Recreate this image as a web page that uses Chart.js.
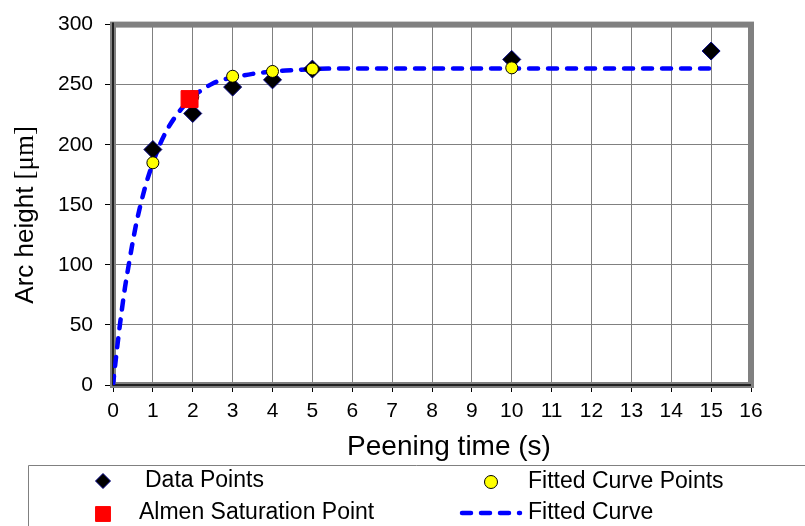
<!DOCTYPE html>
<html>
<head>
<meta charset="utf-8">
<script src="https://cdn.jsdelivr.net/npm/chart.js@4/dist/chart.umd.min.js"></script>
<style>
  html, body { margin: 0; padding: 0; background: #fff; }
  #wrap { position: relative; width: 805px; height: 526px; }
  canvas { display: block; }
</style>
</head>
<body>
<div id="wrap"><canvas id="c" width="805" height="526"></canvas></div>
<script>
// ---- data ----
const dataX = [1, 2, 3, 4, 5, 10, 15];
const dataY = [196, 226, 248, 254, 263, 271, 278];

const fitPtX = [1, 2, 3, 4, 5, 10];
const fitPtY = [185, 240, 257, 261, 263, 264];

const almenX = [1.92];
const almenY = [238];

const curveX = [0, 0.1, 0.2, 0.3, 0.4, 0.5, 0.6, 0.8, 1, 1.2, 1.4, 1.6, 1.8, 2, 2.25, 2.5, 2.75, 3, 3.5, 4, 4.5, 5, 6, 8, 10, 12, 15];
const curveY = [0, 30, 57, 81, 101, 120, 137, 164, 185, 202, 215, 225, 233, 240, 246, 251, 254, 256, 259, 261, 262, 263, 263.5, 263.5, 263.5, 263.5, 263.5];

const xTicksMax = 16;
const yTicksMax = 300;

const labels = {
  data: 'Data Points',
  fitPts: 'Fitted Curve Points',
  almen: 'Almen Saturation Point',
  curve: 'Fitted Curve',
  xTitle: 'Peening time (s)',
  yTitleMain: 'Arc height ',
  yTitleUnit: '[\u03bcm]'
};

const FONT = "'Liberation Sans', Arial, sans-serif";
const SERIF = "'Liberation Serif', 'Times New Roman', serif";
const toXY = (xs, ys) => xs.map((x, i) => ({x: x, y: ys[i]}));

const frame = {
  id: 'frame',
  beforeDatasetsDraw(chart) {
    const {ctx, chartArea: a} = chart;
    ctx.save();
    ctx.strokeStyle = '#808080';
    ctx.lineWidth = 6;
    ctx.strokeRect(a.left, a.top, a.right - a.left, a.bottom - a.top);
    ctx.strokeStyle = '#000';
    ctx.lineWidth = 1.5;
    ctx.beginPath();
    ctx.moveTo(a.left, a.top - 2);
    ctx.lineTo(a.left, a.bottom);
    ctx.lineTo(a.right, a.bottom);
    ctx.stroke();
    ctx.restore();
  }
};

const axisTitles = {
  id: 'axisTitles',
  afterDraw(chart) {
    const ctx = chart.ctx;
    const a = chart.chartArea;
    ctx.save();
    ctx.fillStyle = '#000';
    ctx.textBaseline = 'middle';
    // x title
    ctx.font = '28px ' + FONT;
    ctx.textAlign = 'center';
    ctx.fillText(labels.xTitle, (a.left + a.right) / 2 + 17, a.bottom + 62);
    // y title (rotated), sans part + serif unit
    ctx.translate(26, (a.top + a.bottom) / 2 + 10);
    ctx.rotate(-Math.PI / 2);
    ctx.font = '26px ' + FONT;
    const w1 = ctx.measureText(labels.yTitleMain).width;
    ctx.font = '27px ' + SERIF;
    const w2 = ctx.measureText(labels.yTitleUnit).width;
    const start = -(w1 + w2) / 2;
    ctx.textAlign = 'left';
    ctx.font = '26px ' + FONT;
    ctx.fillText(labels.yTitleMain, start, 0);
    ctx.font = '27px ' + SERIF;
    ctx.fillText(labels.yTitleUnit, start + w1, 0);
    ctx.restore();
  }
};

const legendBox = {
  id: 'legendBox',
  afterDraw(chart) {
    const ctx = chart.ctx;
    const ds = chart.data.datasets;
    const byId = id => ds.find(d => d.id === id);
    ctx.save();
    ctx.strokeStyle = '#808080';
    ctx.lineWidth = 1;
    ctx.beginPath();
    ctx.moveTo(28.5, 526);
    ctx.lineTo(28.5, 465.5);
    ctx.lineTo(805, 465.5);
    ctx.stroke();

    ctx.font = '23px ' + FONT;
    ctx.fillStyle = '#000';
    ctx.textBaseline = 'middle';
    ctx.textAlign = 'left';

    const drawMarker = (d, x, y, r) => {
      ctx.save();
      ctx.fillStyle = d.backgroundColor;
      ctx.strokeStyle = d.borderColor;
      ctx.lineWidth = d.pointBorderWidth;
      Chart.helpers.drawPoint(ctx, {pointStyle: d.pointStyle, radius: r, borderWidth: d.pointBorderWidth, rotation: 0}, x, y);
      ctx.restore();
    };

    const dData = byId('data');
    drawMarker(dData, 103, 481, 7.5);
    ctx.fillText(dData.label, 145, 481);

    const dFit = byId('fitPts');
    drawMarker(dFit, 491, 482, 6.5);
    ctx.fillText(dFit.label, 528, 482);

    const dAl = byId('almen');
    drawMarker(dAl, 103, 514, 10.5);
    ctx.fillText(dAl.label, 139, 513);

    const dCur = byId('curve');
    ctx.save();
    ctx.strokeStyle = dCur.borderColor;
    ctx.lineWidth = dCur.borderWidth;
    ctx.lineCap = 'round';
    ctx.setLineDash(dCur.borderDash);
    ctx.beginPath();
    ctx.moveTo(462, 513);
    ctx.lineTo(520, 513);
    ctx.stroke();
    ctx.restore();
    ctx.fillText(dCur.label, 528, 513);
    ctx.restore();
  }
};

new Chart(document.getElementById('c'), {
  type: 'scatter',
  data: {
    datasets: [
      {
        id: 'almen', label: labels.almen, order: 0,
        data: toXY(almenX, almenY),
        pointStyle: 'rect', pointRadius: 12, pointHoverRadius: 12,
        backgroundColor: '#FF0000', borderColor: '#FF0000', pointBorderWidth: 1
      },
      {
        id: 'fitPts', label: labels.fitPts, order: 1,
        data: toXY(fitPtX, fitPtY),
        pointStyle: 'circle', pointRadius: 6, pointHoverRadius: 6,
        backgroundColor: '#FFFF00', borderColor: '#000000', pointBorderWidth: 1
      },
      {
        id: 'data', label: labels.data, order: 2,
        data: toXY(dataX, dataY),
        pointStyle: 'rectRot', pointRadius: 9, pointHoverRadius: 9,
        backgroundColor: '#000000', borderColor: '#000080', pointBorderWidth: 1
      },
      {
        id: 'curve', label: labels.curve, order: 3,
        type: 'line',
        data: toXY(curveX, curveY),
        showLine: true, pointRadius: 0, pointHoverRadius: 0,
        borderColor: '#0000FF', backgroundColor: '#0000FF',
        borderWidth: 4.5, borderDash: [9, 10], borderCapStyle: 'round',
        cubicInterpolationMode: 'monotone', fill: false
      }
    ]
  },
  options: {
    responsive: false,
    animation: false,
    events: [],
    layout: { padding: { top: 22, right: 54, bottom: 61, left: 0 } },
    plugins: { legend: { display: false }, tooltip: { enabled: false } },
    scales: {
      x: {
        type: 'linear', min: 0, max: xTicksMax,
        afterFit(s) { s.height = 80; },
        border: { display: false },
        grid: { color: '#808080', lineWidth: 1, tickColor: '#000', tickLength: 7, tickWidth: 1 },
        ticks: { stepSize: 1, color: '#000', font: { family: FONT, size: 21 }, padding: 7, maxRotation: 0 },
        title: { display: false }
      },
      y: {
        type: 'linear', min: 0, max: yTicksMax,
        afterFit(s) { s.width = 113; },
        border: { display: false },
        grid: { color: '#808080', lineWidth: 1, tickColor: '#000', tickLength: 8, tickWidth: 1 },
        ticks: { stepSize: 50, color: '#000', font: { family: FONT, size: 21 }, padding: 12 },
        title: { display: false }
      }
    }
  },
  plugins: [frame, axisTitles, legendBox]
});
</script>
</body>
</html>
